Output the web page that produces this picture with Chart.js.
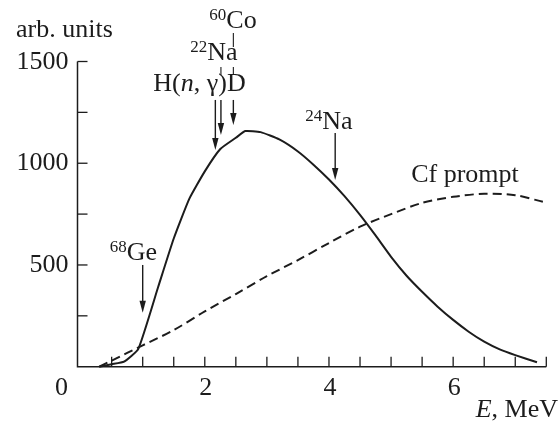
<!DOCTYPE html>
<html>
<head>
<meta charset="utf-8">
<script src="https://cdn.jsdelivr.net/npm/chart.js@4.4.1/dist/chart.umd.min.js"></script>
<style>
  html, body { margin: 0; padding: 0; background: #ffffff; }
  #wrap { width: 560px; height: 424px; }
</style>
</head>
<body>
<div id="wrap"><canvas id="spectrum" width="560" height="424"></canvas></div>
<script>
// Measured spectrum (solid) and Cf prompt-neutron reference (dashed)
const energyMeasured = [0.3, 0.5, 0.7, 0.93, 1.25, 1.5, 1.75, 2.0, 2.25, 2.5, 2.65, 2.9, 3.2, 3.5, 3.75, 4.0, 4.25, 4.5, 4.75, 5.0, 5.25, 5.5, 5.75, 6.0, 6.25, 6.5, 6.75, 7.0, 7.35];
const countsMeasured = [0, 12, 25, 88, 393, 630, 825, 960, 1070, 1125, 1158, 1153, 1117, 1058, 993, 920, 838, 746, 645, 540, 447, 368, 295, 230, 172, 123, 85, 57, 22];

const energyCf = [0.3, 0.5, 1.0, 1.5, 2.0, 2.5, 3.0, 3.5, 4.0, 4.5, 5.0, 5.5, 6.0, 6.5, 7.0, 7.45];
const countsCf = [0, 30, 105, 180, 272, 357, 445, 524, 608, 688, 750, 805, 835, 850, 843, 810];

// Axis ticks and labels
const xTickValues = [0.5, 1, 1.5, 2, 2.5, 3, 3.5, 4, 4.5, 5, 5.5, 6, 6.5, 7, 7.5];
const xTickLabels = [2, 4, 6];
const yTickValues = [250, 500, 750, 1000, 1250, 1500];
const yTickLabels = [500, 1000, 1500];

// Calibration lines: energy, arrow tail and arrow tip (arb. units)
const lineNames = ['68Ge', 'H(n,γ)D', '22Na', '60Co', '24Na'];
const lineEnergy = [1.0, 2.17, 2.26, 2.46, 4.10];
const arrowFrom = [500, 1311, 1311, 1311, 1148];
const arrowTo = [265, 1065, 1139, 1188, 917];

const toPoints = (xs, ys) => xs.map((x, i) => ({ x: x, y: ys[i] }));

const SERIF = '"Liberation Serif", "DejaVu Serif", serif';
const INK = '#1c1c1c';
const MAIN = 26, SUP = 17;

function font(size, italic) {
  return (italic ? 'italic ' : '') + size + 'px ' + SERIF;
}

// Width of a run of text pieces
function richWidth(ctx, parts) {
  let w = 0;
  parts.forEach(p => {
    ctx.font = font(p.sup ? SUP : MAIN, p.it);
    w += ctx.measureText(p.t).width;
  });
  return w;
}

// Draws a run of text pieces (normal / italic / superscript) starting at x, on baseline y
function drawRich(ctx, parts, x, y) {
  let cx = x;
  ctx.textAlign = 'left';
  ctx.textBaseline = 'alphabetic';
  parts.forEach(p => {
    ctx.font = font(p.sup ? SUP : MAIN, p.it);
    ctx.fillText(p.t, cx, y - (p.sup ? 8 : 0));
    cx += ctx.measureText(p.t).width;
  });
  return cx;
}

function arrow(ctx, x, y1, y2) {
  const head = 12, half = 3.2;
  ctx.beginPath();
  ctx.moveTo(x, y1);
  ctx.lineTo(x, y2 - head + 2);
  ctx.stroke();
  ctx.beginPath();
  ctx.moveTo(x, y2);
  ctx.lineTo(x - half, y2 - head);
  ctx.lineTo(x + half, y2 - head);
  ctx.closePath();
  ctx.fill();
}

const decorations = {
  id: 'decorations',
  afterDatasetsDraw(chart) {
    const ctx = chart.ctx;
    const xs = chart.scales.x, ys = chart.scales.y;
    const area = chart.chartArea;
    const X = v => xs.getPixelForValue(v);
    const Y = v => ys.getPixelForValue(v);

    ctx.save();
    ctx.strokeStyle = INK;
    ctx.fillStyle = INK;
    ctx.lineCap = 'butt';

    // axes
    ctx.lineWidth = 1.5;
    ctx.beginPath();
    ctx.moveTo(area.left, Y(1500));
    ctx.lineTo(area.left, area.bottom);
    ctx.lineTo(X(7.5), area.bottom);
    ctx.stroke();

    // inward tick marks
    ctx.lineWidth = 1.3;
    xTickValues.forEach(v => {
      ctx.beginPath();
      ctx.moveTo(X(v), area.bottom);
      ctx.lineTo(X(v), area.bottom - 10);
      ctx.stroke();
    });
    yTickValues.forEach(v => {
      ctx.beginPath();
      ctx.moveTo(area.left, Y(v));
      ctx.lineTo(area.left + 10, Y(v));
      ctx.stroke();
    });

    // tick labels
    ctx.font = font(MAIN, false);
    ctx.textBaseline = 'alphabetic';
    ctx.textAlign = 'center';
    xTickLabels.forEach(v => ctx.fillText(String(v), X(v) + 1, area.bottom + 28));
    ctx.fillText('0', area.left - 16, area.bottom + 28);
    ctx.textAlign = 'right';
    yTickLabels.forEach(v => ctx.fillText(String(v), area.left - 9, Y(v) + 7));

    // axis titles
    drawRich(ctx, [{ t: 'arb. units' }], 16, 37);
    const eParts = [{ t: 'E', it: true }, { t: ', MeV' }];
    drawRich(ctx, eParts, 558 - richWidth(ctx, eParts), 417);

    // calibration arrows
    ctx.lineWidth = 1.4;
    lineEnergy.forEach((e, i) => arrow(ctx, X(e), Y(arrowFrom[i]), Y(arrowTo[i])));

    // line labels
    const geX = X(lineEnergy[0]), geTop = Y(arrowFrom[0]);
    drawRich(ctx, [{ t: '68', sup: true }, { t: 'Ge' }], geX - 33, geTop - 5);

    const naX = X(lineEnergy[4]), naTop = Y(arrowFrom[4]);
    drawRich(ctx, [{ t: '24', sup: true }, { t: 'Na' }], naX - 30, naTop - 4);

    const hX = X(lineEnergy[1]), topY = Y(arrowFrom[1]);
    drawRich(ctx, [{ t: 'H(' }, { t: 'n', it: true }, { t: ', γ)D' }], hX - 62, topY - 9);
    drawRich(ctx, [{ t: '22', sup: true }, { t: 'Na' }], hX - 25, topY - 40);
    drawRich(ctx, [{ t: '60', sup: true }, { t: 'Co' }], hX - 6, topY - 72);

    // leaders joining stacked labels
    ctx.lineWidth = 1.1;
    const coX = X(lineEnergy[3]), na22X = X(lineEnergy[2]);
    [[coX, topY - 67, topY - 53], [coX, topY - 33, topY - 25], [na22X, topY - 33, topY - 25]].forEach(s => {
      ctx.beginPath();
      ctx.moveTo(s[0], s[1]);
      ctx.lineTo(s[0], s[2]);
      ctx.stroke();
    });

    // reference curve label
    drawRich(ctx, [{ t: 'Cf prompt' }], X(6.5) - 73, Y(850) - 12);

    ctx.restore();
  }
};

new Chart(document.getElementById('spectrum'), {
  type: 'line',
  data: {
    datasets: [
      {
        label: 'measured',
        data: toPoints(energyMeasured, countsMeasured),
        borderColor: INK,
        borderWidth: 2,
        pointRadius: 0,
        tension: 0.15,
        fill: false
      },
      {
        label: 'Cf prompt',
        data: toPoints(energyCf, countsCf),
        borderColor: INK,
        borderWidth: 2,
        borderDash: [9, 5],
        pointRadius: 0,
        tension: 0.3,
        fill: false
      }
    ]
  },
  options: {
    responsive: false,
    animation: false,
    devicePixelRatio: 1,
    layout: { padding: { left: 77.5, right: 13.7, top: 61.5, bottom: 57.3 } },
    plugins: { legend: { display: false }, tooltip: { enabled: false } },
    scales: {
      x: { type: 'linear', min: -0.05, max: 7.5, display: false },
      y: { type: 'linear', min: 0, max: 1500, display: false }
    },
    clip: false
  },
  plugins: [decorations]
});
</script>
</body>
</html>
